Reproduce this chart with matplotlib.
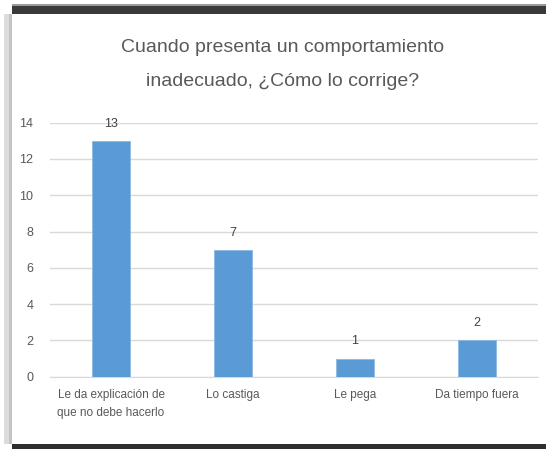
import matplotlib.pyplot as plt
from matplotlib.patches import Rectangle
from matplotlib import font_manager

# data
categorias = ["Le da explicación de\nque no debe hacerlo", "Lo castiga", "Le pega", "Da tiempo fuera"]
valores = [13, 7, 1, 2]
y_ticks = [0, 2, 4, 6, 8, 10, 12, 14]
titulo = ["Cuando presenta un comportamiento", "inadecuado, ¿Cómo lo corrige?"]

installed = {f.name for f in font_manager.fontManager.ttflist}
fam = [f for f in ["Liberation Sans Narrow", "Liberation Sans", "DejaVu Sans"] if f in installed]
plt.rcParams['font.family'] = fam

grey = '#595959'
bar_color = '#5B9BD5'

fig = plt.figure(figsize=(5.46, 4.49), dpi=100)
fig.patch.set_facecolor('white')

# frame shadow like the pasted excel chart
W, H = 546.0, 449.0
fig.patches.append(Rectangle((12 / W, (H - 14) / H), 1 - 12 / W, 10 / H, transform=fig.transFigure,
                             facecolor='#3a3a3a', edgecolor='none', zorder=0))
fig.patches.append(Rectangle((12 / W, (H - 6) / H), 1 - 12 / W, 2 / H, transform=fig.transFigure,
                             facecolor='#9a9a9a', edgecolor='none', zorder=0))
fig.patches.append(Rectangle((12 / W, 0), 1 - 12 / W, 5 / H, transform=fig.transFigure,
                             facecolor='#2f2f2f', edgecolor='none', zorder=0))
fig.patches.append(Rectangle((4 / W, 5 / H), 8 / W, (H - 19) / H, transform=fig.transFigure,
                             facecolor='#dcdcdc', edgecolor='none', zorder=0))
fig.patches.append(Rectangle((9 / W, 5 / H), 3 / W, (H - 19) / H, transform=fig.transFigure,
                             facecolor='#c4c4c4', edgecolor='none', zorder=0))

ax = fig.add_axes([50 / W, (H - 376.7) / H, (538 - 50) / W, (376.7 - 122.7) / H])
x = range(len(categorias))
bars = ax.bar(x, valores, width=0.31, color=bar_color, edgecolor='#8db8e3', linewidth=0.6, zorder=3)

for xi, v in zip(x, valores):
    ax.annotate(str(v), (xi, v), xytext=(0, 8), textcoords='offset points',
                ha='center', va='bottom', fontsize=9, color='#404040')

ax.set_xlim(-0.5, len(categorias) - 0.5)
ax.set_ylim(0, 14)
ax.set_yticks(y_ticks)
ax.set_xticks(list(x))
ax.set_xticklabels(categorias, fontsize=8.5, color=grey, linespacing=1.6)
ax.tick_params(axis='y', labelsize=9, labelcolor=grey, length=0, pad=12)
ax.tick_params(axis='x', length=0, pad=9)
ax.grid(axis='y', color='#d9d9d9', linewidth=1, zorder=0)
ax.set_axisbelow(True)
for s in ['top', 'right', 'left']:
    ax.spines[s].set_visible(False)
ax.spines['bottom'].set_color('#d9d9d9')

# title, two lines placed separately
fig.text(283 / W, 1 - 47 / H, titulo[0], ha='center', va='center', fontsize=14, color=grey)
fig.text(283 / W, 1 - 82 / H, titulo[1], ha='center', va='center', fontsize=14, color=grey)

plt.savefig('out.png', dpi=100)
